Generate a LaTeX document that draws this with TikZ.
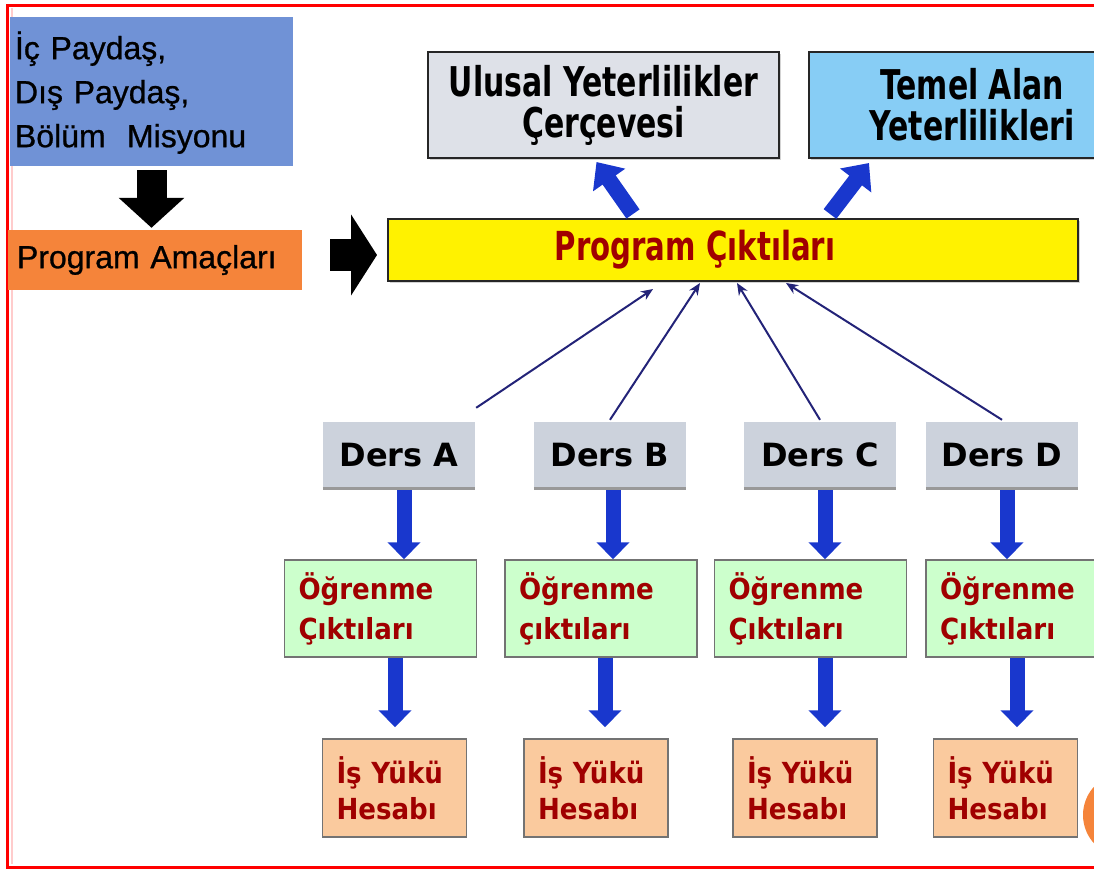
\documentclass[tikz,border=0pt]{standalone}
\usepackage{fontspec}
\setmainfont{Liberation Sans}
\newfontfamily\arialfont[FakeBold=0.8]{Liberation Sans}
\newfontfamily\narrowfont[FakeStretch=0.73]{DejaVu Sans}
\newfontfamily\tahomafont[FakeStretch=0.9]{DejaVu Sans}
\newfontfamily\verdanafont{DejaVu Sans}
\usetikzlibrary{arrows.meta,positioning,calc,shadows}

\definecolor{paydasblue}{RGB}{112,146,214}
\definecolor{amacorange}{RGB}{245,132,58}
\definecolor{ulusalgray}{RGB}{222,225,232}
\definecolor{temelblue}{RGB}{135,205,245}
\definecolor{dersgray}{RGB}{204,210,220}
\definecolor{ogrgreen}{RGB}{204,255,204}
\definecolor{isorange}{RGB}{250,202,158}
\definecolor{darkred}{RGB}{160,0,0}
\definecolor{arrowblue}{RGB}{25,55,205}
\definecolor{navy}{RGB}{35,35,120}

\begin{document}
\begin{tikzpicture}[x=1pt, y=-1pt,
    box/.style={rectangle, inner sep=0pt},
    shadowbox/.style={box, draw=black!85, line width=2pt, drop shadow={shadow xshift=2pt, shadow yshift=-2pt, opacity=.35}},
    dersbox/.style={box, fill=dersgray, minimum width=152pt, minimum height=66pt, font=\verdanafont\bfseries\fontsize{32}{36}\selectfont},
    ogrbox/.style={box, fill=ogrgreen, draw=black!55, line width=1.5pt, minimum width=192pt, minimum height=97pt, text width=164pt, align=left, text=darkred, font=\tahomafont\bfseries\fontsize{29}{40}\selectfont},
    isbox/.style={box, fill=isorange, draw=black!55, line width=1.5pt, minimum width=144pt, minimum height=98pt, text width=116pt, align=left, text=darkred, font=\tahomafont\bfseries\fontsize{29}{36}\selectfont},
    blackarrow/.style={black, line width=30pt, -{Triangle[length=30pt,width=64pt]}},
    bluearrow/.style={arrowblue, line width=16pt, -{Triangle[length=22pt,width=38pt]}},
    downarrow/.style={arrowblue, line width=15pt, -{Triangle[length=17pt,width=32pt]}},
    thinarrow/.style={navy, line width=2pt, -{Stealth[length=12pt,width=10pt]}}]
  \useasboundingbox (0,0) rectangle (1094,871);
  \clip (0,0) rectangle (1094,871);
  \draw[red, line width=3pt] (7,5) rectangle (1130,867);
  \draw[red!20, line width=2pt] (12,8) -- (12,864);

  \node (paydas) at (151.5,91.5) [box, fill=paydasblue, minimum width=283pt, minimum height=149pt, text width=273pt, align=left, font=\arialfont\fontsize{32}{44}\selectfont] {\rule{0pt}{30pt}İç Paydaş,\\Dış Paydaş,\\Bölüm\ \ Misyonu};
  \node (amac) at (155,260) [box, fill=amacorange, minimum width=294pt, minimum height=60pt, text width=276pt, align=left, font=\arialfont\fontsize{32}{36}\selectfont] {Program Amaçları};

  \node (ulusal) at (603.5,105) [shadowbox, fill=ulusalgray, minimum width=351pt, minimum height=106pt, align=center, font=\narrowfont\bfseries\fontsize{41}{41}\selectfont] {Ulusal Yeterlilikler\\Çerçevesi};
  \node (temel) at (972,105) [shadowbox, fill=temelblue, minimum width=326pt, minimum height=106pt, align=center, font=\narrowfont\bfseries\fontsize{41}{41}\selectfont] {Temel Alan\\Yeterlilikleri};
  \node (cikti) at (733,250) [shadowbox, fill=yellow, minimum width=690pt, minimum height=62pt] {};
  \node (ciktitext) at (695,250) [text=darkred, font=\narrowfont\bfseries\fontsize{40}{44}\selectfont] {Program Çıktıları};

  \draw[blackarrow, shorten >=2pt] ([yshift=-4pt]paydas.south) -- (paydas.south |- amac.north);
  \draw[black, line width=32pt, -{Triangle[length=26pt,width=80pt]}] ([xshift=28pt,yshift=5pt]amac.east) -- ([xshift=-10pt,yshift=-5pt]cikti.west);
  \draw[bluearrow] ([xshift=-100pt,yshift=4pt]cikti.north) -- ([xshift=-7pt,yshift=-3pt]ulusal.south);
  \draw[bluearrow] ([xshift=97pt,yshift=4pt]cikti.north) -- ([xshift=-103pt,yshift=-4pt]temel.south);

  \node (dA) at (399,455) [dersbox] {Ders A};
  \node (dB) at (610,455) [dersbox] {Ders B};
  \node (dC) at (820,455) [dersbox] {Ders C};
  \node (dD) at (1002,455) [dersbox] {Ders D};
  \draw[black!40, line width=3pt] (dA.south west) -- (dA.south east);
  \draw[black!40, line width=3pt] (dB.south west) -- (dB.south east);
  \draw[black!40, line width=3pt] (dC.south west) -- (dC.south east);
  \draw[black!40, line width=3pt] (dD.south west) -- (dD.south east);

  \node (oA) at (380.5,608.5) [ogrbox] {Öğrenme\\Çıktıları};
  \node (oB) at (601,608.5) [ogrbox] {Öğrenme\\çıktıları};
  \node (oC) at (810.5,608.5) [ogrbox] {Öğrenme\\Çıktıları};
  \node (oD) at (1022,608.5) [ogrbox] {Öğrenme\\Çıktıları};

  \node (hA) at (394.5,788) [isbox] {İş Yükü\\Hesabı};
  \node (hB) at (596,788) [isbox] {İş Yükü\\Hesabı};
  \node (hC) at (805,788) [isbox] {İş Yükü\\Hesabı};
  \node (hD) at (1005.5,788) [isbox] {İş Yükü\\Hesabı};

  \draw[thinarrow] ([xshift=1pt,yshift=14pt]dA.north east) -- ([xshift=-80pt,yshift=-7pt]cikti.south);
  \draw[thinarrow] ([yshift=2pt]dB.north) -- ([xshift=-33pt,yshift=-1pt]cikti.south);
  \draw[thinarrow] ([yshift=2pt]dC.north) -- ([xshift=4pt,yshift=-1pt]cikti.south);
  \draw[thinarrow] ([yshift=2pt]dD.north) -- ([xshift=53pt,yshift=-1pt]cikti.south);

  \draw[downarrow] ([yshift=-2pt]dA.south -| 404,0) -- (oA.north -| 404,0);
  \draw[downarrow] ([yshift=-2pt]dB.south -| 613,0) -- (oB.north -| 613,0);
  \draw[downarrow] ([yshift=-2pt]dC.south -| 825,0) -- (oC.north -| 825,0);
  \draw[downarrow] ([yshift=-2pt]dD.south -| 1007,0) -- (oD.north -| 1007,0);
  \draw[downarrow, shorten >=11pt] (oA.south -| 395,0) -- (hA.north -| 395,0);
  \draw[downarrow, shorten >=11pt] (oB.south -| 605,0) -- (hB.north -| 605,0);
  \draw[downarrow, shorten >=11pt] (oC.south -| 825,0) -- (hC.north -| 825,0);
  \draw[downarrow, shorten >=11pt] (oD.south -| 1017,0) -- (hD.north -| 1017,0);

  \fill[amacorange] (1125,815) circle (42);
\end{tikzpicture}
\end{document}
